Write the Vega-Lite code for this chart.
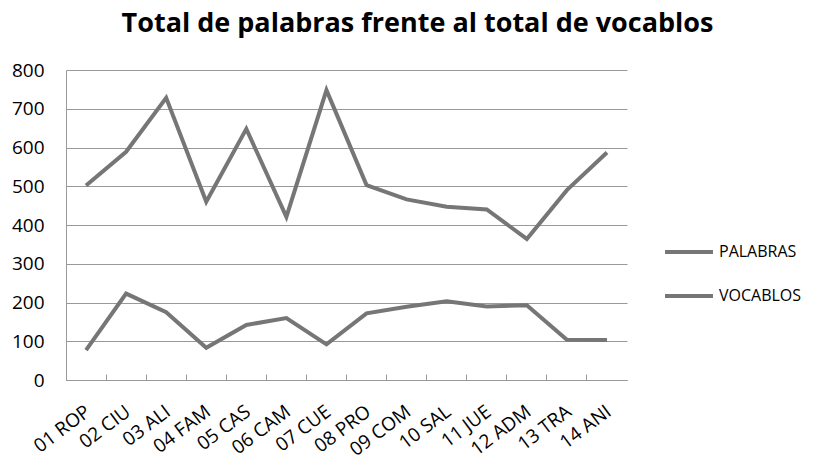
{
  "$schema": "https://vega.github.io/schema/vega-lite/v6.json",
  "width": 561,
  "height": 310,
  "autosize": "none",
  "padding": {"left": 66, "top": 70, "right": 199, "bottom": 86},
  "background": "white",
  "title": {
    "text": "Total de palabras frente al total de vocablos",
    "font": "Open Sans",
    "fontSize": 27,
    "fontWeight": "bold",
    "color": "#000000",
    "anchor": "middle",
    "dx": 71,
    "offset": 23
  },
  "data": {
    "values": [
      {"cat": "01 ROP", "serie": "PALABRAS", "valor": 502},
      {"cat": "02 CIU", "serie": "PALABRAS", "valor": 589},
      {"cat": "03 ALI", "serie": "PALABRAS", "valor": 728},
      {"cat": "04 FAM", "serie": "PALABRAS", "valor": 460},
      {"cat": "05 CAS", "serie": "PALABRAS", "valor": 648},
      {"cat": "06 CAM", "serie": "PALABRAS", "valor": 421},
      {"cat": "07 CUE", "serie": "PALABRAS", "valor": 748},
      {"cat": "08 PRO", "serie": "PALABRAS", "valor": 503},
      {"cat": "09 COM", "serie": "PALABRAS", "valor": 466},
      {"cat": "10 SAL", "serie": "PALABRAS", "valor": 447},
      {"cat": "11 JUE", "serie": "PALABRAS", "valor": 440},
      {"cat": "12 ADM", "serie": "PALABRAS", "valor": 364},
      {"cat": "13 TRA", "serie": "PALABRAS", "valor": 490},
      {"cat": "14 ANI", "serie": "PALABRAS", "valor": 587},
      {"cat": "01 ROP", "serie": "VOCABLOS", "valor": 77},
      {"cat": "02 CIU", "serie": "VOCABLOS", "valor": 223},
      {"cat": "03 ALI", "serie": "VOCABLOS", "valor": 175},
      {"cat": "04 FAM", "serie": "VOCABLOS", "valor": 83},
      {"cat": "05 CAS", "serie": "VOCABLOS", "valor": 142},
      {"cat": "06 CAM", "serie": "VOCABLOS", "valor": 160},
      {"cat": "07 CUE", "serie": "VOCABLOS", "valor": 92},
      {"cat": "08 PRO", "serie": "VOCABLOS", "valor": 172},
      {"cat": "09 COM", "serie": "VOCABLOS", "valor": 189},
      {"cat": "10 SAL", "serie": "VOCABLOS", "valor": 203},
      {"cat": "11 JUE", "serie": "VOCABLOS", "valor": 190},
      {"cat": "12 ADM", "serie": "VOCABLOS", "valor": 193},
      {"cat": "13 TRA", "serie": "VOCABLOS", "valor": 104},
      {"cat": "14 ANI", "serie": "VOCABLOS", "valor": 103}
    ]
  },
  "mark": {"type": "line", "strokeWidth": 4, "strokeJoin": "miter"},
  "encoding": {
    "x": {
      "field": "cat",
      "type": "nominal",
      "sort": null,
      "scale": {"type": "band", "paddingInner": 0, "paddingOuter": 0},
      "axis": {
        "title": null,
        "bandPosition": 0,
        "labelAngle": -37,
        "labelAlign": "right",
        "labelBaseline": "middle",
        "labelFont": "Open Sans",
        "labelFontSize": 19,
        "labelColor": "#000000",
        "labelPadding": 35,
        "labelOffset": 2,
        "domainColor": "#999999",
        "tickColor": "#999999",
        "tickSize": -6,
        "grid": false
      }
    },
    "y": {
      "field": "valor",
      "type": "quantitative",
      "scale": {"domain": [0, 800], "nice": false},
      "axis": {
        "title": null,
        "values": [0, 100, 200, 300, 400, 500, 600, 700, 800],
        "labelFont": "Open Sans",
        "labelFontSize": 19,
        "labelColor": "#000000",
        "labelPadding": 22,
        "ticks": false,
        "domainColor": "#999999",
        "gridColor": "#999999",
        "gridWidth": 1
      }
    },
    "color": {
      "field": "serie",
      "type": "nominal",
      "scale": {"range": ["#767676", "#767676"]},
      "legend": {
        "title": null,
        "orient": "none",
        "legendX": 597,
        "legendY": 156,
        "symbolType": "stroke",
        "symbolStrokeWidth": 4,
        "symbolSize": 2300,
        "labelFont": "Open Sans",
        "labelFontSize": 16,
        "labelColor": "#000000",
        "rowPadding": 10,
        "labelOffset": 4
      }
    }
  },
  "config": {"view": {"stroke": null}}
}
